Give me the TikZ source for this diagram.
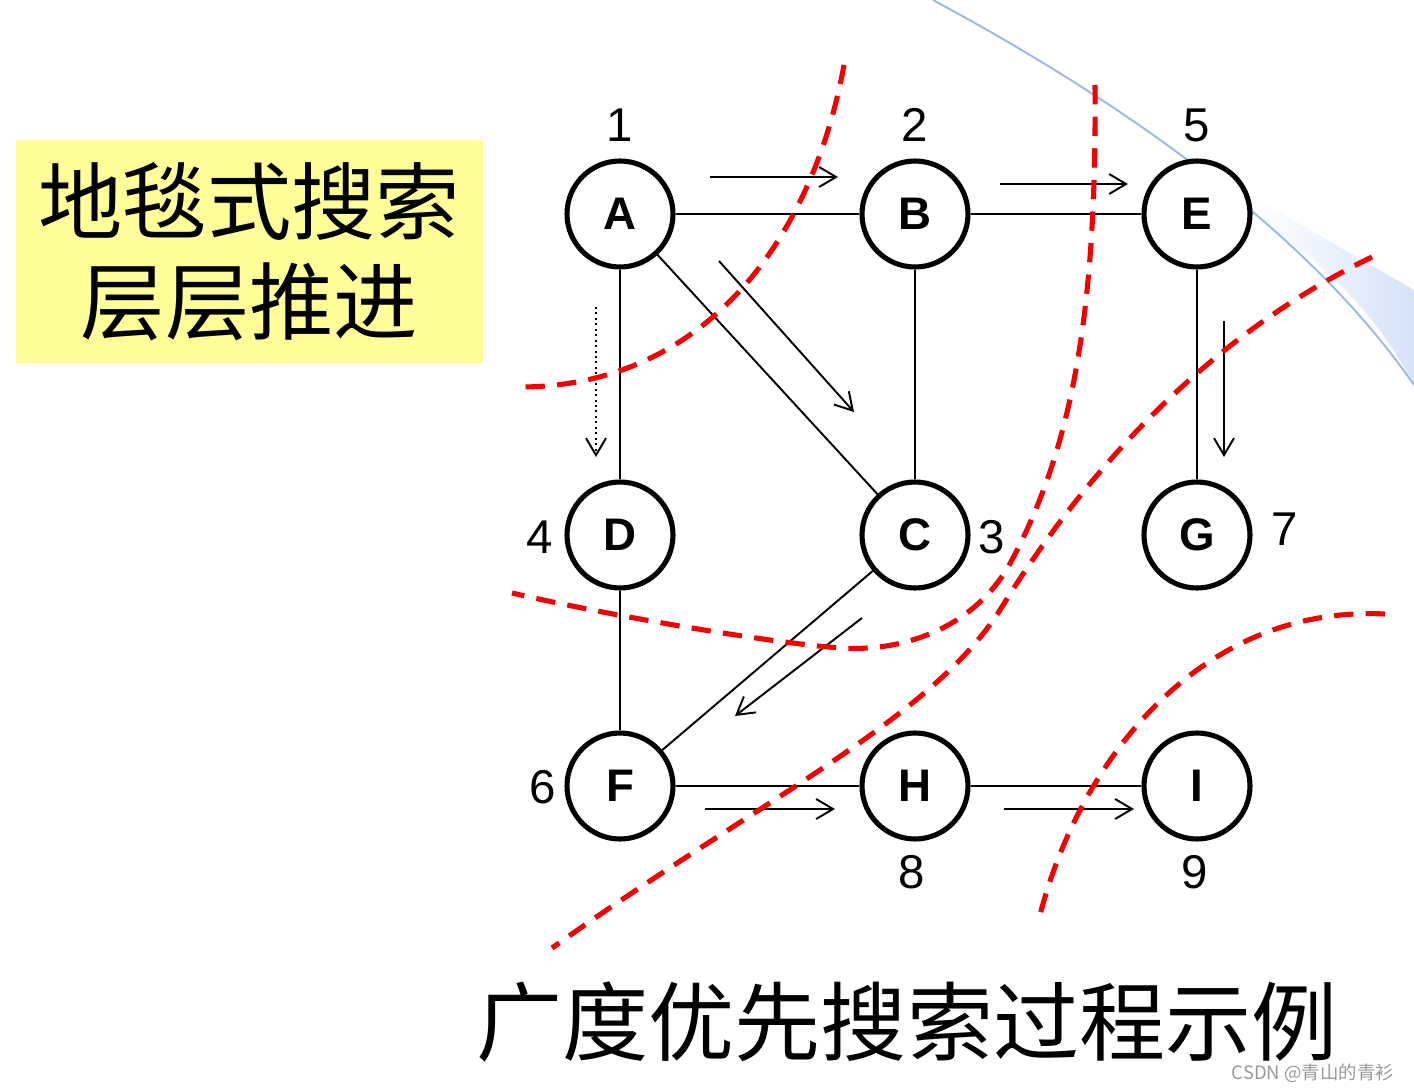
\documentclass[tikz,border=0pt]{standalone}
\usepackage{fontspec}
\setmainfont{Liberation Sans}
\newfontfamily\cjk{Noto Sans CJK SC}
\usetikzlibrary{arrows.meta}
\definecolor{bannerfill}{HTML}{FFFF99}
\definecolor{swoosh}{HTML}{D6E2F8}
\definecolor{rimblue}{HTML}{9DB7E9}
\definecolor{cutred}{HTML}{F50000}
\newcommand{\bfsarrowstyle}{-{Straight Barb[length=3.4mm,width=4mm]}}

\begin{document}
\begin{tikzpicture}[
    x=0.02cm, y=-0.02cm,
    vertex/.style={circle, draw, fill=white, line width=2.9pt, minimum size=2.12cm, inner sep=0pt, font=\fontsize{26}{26}\selectfont\bfseries},
    edge/.style={line width=1.1pt},
    hop/.style={\bfsarrowstyle, line width=1.1pt},
    cut/.style={draw=cutred, line width=2.9pt, dash pattern=on 11pt off 7pt},
    order/.style={font=\fontsize{27}{27}\selectfont, inner sep=0pt},
    banner/.style={fill=bannerfill, minimum width=9.34cm, minimum height=4.46cm, align=center, inner sep=0pt, font=\cjk\fontsize{48}{57}\selectfont},
    headline/.style={inner sep=0pt, font=\cjk\fontsize{49}{49}\selectfont},
    stamp/.style={inner sep=0pt, text=gray!80, font=\cjk\fontsize{10.5}{10.5}\selectfont},
    rim/.style={draw=rimblue, line width=1.1pt}
]
  \useasboundingbox (0,0) rectangle (1414,1092);
  \fill[white] (0,0) rectangle (1414,1092);

  % backdrop swoosh, top right
  \shade[left color=white, right color=swoosh] (1253,197) -- (1414,290) -- (1414,385)
    .. controls (1380,320) and (1330,265) .. (1253,217) -- cycle;
  \draw[rim] (933,0) .. controls (1100,90) and (1300,220) .. (1414,385);

  \node[banner] (banner) at (249.5,251.5) {地毯式搜索\\层层推进};

  % graph vertices
  \foreach \v/\x/\y in {A/620/214, B/915/214, E/1197/214, D/620/535, C/915/535, G/1197/535, F/620/786, H/915/786, I/1197/786}
    \node[vertex] (v-\v) at (\x,\y) {\v};

  \foreach \a/\b in {A/B, B/E, A/D, A/C, B/C, E/G, D/F, C/F, F/H, H/I}
    \draw[edge] (v-\a) -- (v-\b);

  % visiting order
  \foreach \v/\k/\dx/\dy in {A/1/0/-89, B/2/0/-89, E/5/0/-89, D/4/-80/2, C/3/77/2, G/7/88/-6, F/6/-77/1, H/8/-3/86, I/9/-2/86}
    \node[order] (ord-\v) at ([shift={(\dx,\dy)}]v-\v.center) {\k};

  % search direction arrows
  \foreach \n/\sx/\sy/\ex/\ey in {AB/710/177/838/177, BE/1000/184/1128/184, AC/719/261/854/412, EG/1224/321/1224/457, CF/862/618/735/716, FH/705/809/835/809, HI/1004/809/1134/809} {
    \coordinate (hop-\n-s) at (\sx,\sy);
    \coordinate (hop-\n-e) at (\ex,\ey);
    \draw[hop] (hop-\n-s) -- (hop-\n-e);
  }
  \coordinate (hop-AD-s) at (596,307);
  \coordinate (hop-AD-e) at (596,457);
  \draw[hop, dotted] (hop-AD-s) -- (hop-AD-e);

  % layer boundaries
  \draw[cut] (844,65) .. controls (812,240) and (705,385) .. (523,387);
  \draw[cut] (1095,85) .. controls (1097,320) and (1070,450) .. (1012,560)
    .. controls (975,630) and (900,652) .. (841,648)
    .. controls (780,644) and (620,618) .. (512,593);
  \draw[cut] (1372,257) .. controls (1200,340) and (1080,480) .. (1000,610)
    .. controls (930,720) and (760,800) .. (552,948);
  \draw[cut] (1385,614) .. controls (1200,605) and (1080,760) .. (1040,915);

  \node[headline] (headline) at (907,1022) {广度优先搜索过程示例};
  \node[stamp] (stamp) at (1313,1073) {CSDN @青山的青衫};
\end{tikzpicture}
\end{document}
